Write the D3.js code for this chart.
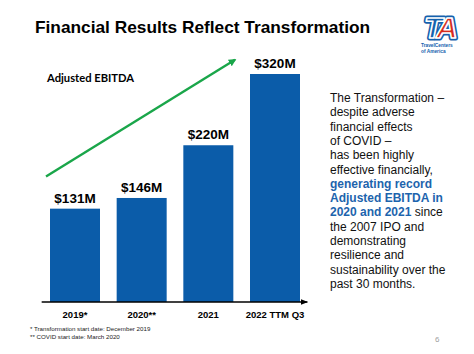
<!DOCTYPE html>
<html><head><meta charset="utf-8">
<script src="https://cdn.jsdelivr.net/npm/d3@7"></script>
<style>body{margin:0;background:#fff}svg{display:block}</style>
</head><body>
<script>
const categories = ["2019*", "2020**", "2021", "2022 TTM Q3"];
const ebitda = [131, 146, 220, 320];
const valueLabels = ["$131M", "$146M", "$220M", "$320M"];
const trendValues = [176, 340];
const footnotes = ["* Transformation start date: December 2019", "** COVID start date: March 2020"];
const sideText = [
  [{t:"The Transformation \u2013"}],
  [{t:"despite adverse"}],
  [{t:"financial effects"}],
  [{t:"of COVID \u2013"}],
  [{t:"has been highly"}],
  [{t:"effective financially,"}],
  [{t:"generating record", h:true}],
  [{t:"Adjusted EBITDA in", h:true}],
  [{t:"2020 and 2021", h:true},{t:" since"}],
  [{t:"the 2007 IPO and"}],
  [{t:"demonstrating"}],
  [{t:"resilience and"}],
  [{t:"sustainability over the"}],
  [{t:"past 30 months."}]
];

const W = 474, H = 354;
const svg = d3.select("body").append("svg").attr("width", W).attr("height", H);
const font = "'Liberation Sans', Arial, sans-serif";

const x = d3.scaleBand().domain(categories).range([41.67, 308.33]).paddingInner(0.25).paddingOuter(0.125);
const y = d3.scaleLinear().domain([0, 320]).range([302, 74]);

// title
svg.append("text").attr("x", 35).attr("y", 33).attr("font-family", font).attr("font-weight", "bold")
  .attr("font-size", 17.3).attr("fill", "#000").text("Financial Results Reflect Transformation");

// logo
const logo = svg.append("g").attr("transform", "translate(421,12)");
const lt = (stroke, sw) => {
  const t = logo.append("text").attr("x", 3).attr("y", 26).attr("font-family", font)
    .attr("font-weight", "bold").attr("font-style", "italic").attr("font-size", 30).attr("letter-spacing", -4)
    .attr("stroke", stroke).attr("stroke-width", sw).attr("stroke-linejoin", "round");
  t.append("tspan").attr("fill", "#1461ad").text("T");
  t.append("tspan").attr("fill", "#d52b1e").text("A");
  return t;
};
lt("#1461ad", 5);
lt("#ffffff", 1.6);
logo.append("text").attr("x", 0).attr("y", 35).attr("font-family", font).attr("font-weight", "bold")
  .attr("font-size", 4.8).attr("fill", "#1461ad").text("TravelCenters");
logo.append("text").attr("x", 0).attr("y", 40.5).attr("font-family", font).attr("font-weight", "bold")
  .attr("font-size", 4.8).attr("fill", "#1461ad").text("of America");

// Adjusted EBITDA label
svg.append("text").attr("x", 47).attr("y", 82).attr("font-family", "Lato, 'Liberation Sans', sans-serif")
  .attr("font-weight", "bold").attr("font-size", 11.2).attr("fill", "#000").text("Adjusted EBITDA");

// trend arrow
const defs = svg.append("defs");
defs.append("marker").attr("id", "ga").attr("viewBox", "0 0 10 10").attr("refX", 8).attr("refY", 5)
  .attr("markerWidth", 3.2).attr("markerHeight", 3.2).attr("orient", "auto")
  .append("path").attr("d", "M0,0 L10,5 L0,10 Z").attr("fill", "#1aa64a");
defs.append("marker").attr("id", "ka").attr("viewBox", "0 0 10 10").attr("refX", 9).attr("refY", 5)
  .attr("markerWidth", 5).attr("markerHeight", 5).attr("orient", "auto")
  .append("path").attr("d", "M0,1 L10,5 L0,9 Z").attr("fill", "#000");

svg.append("line")
  .attr("x1", x(categories[0]) - 4).attr("y1", y(trendValues[0]))
  .attr("x2", x(categories[3]) - 15).attr("y2", y(trendValues[1]))
  .attr("stroke", "#1aa64a").attr("stroke-width", 2.4).attr("marker-end", "url(#ga)");

// bars
const data = categories.map((c, i) => ({c, v: ebitda[i], l: valueLabels[i]}));
svg.selectAll("rect.bar").data(data).enter().append("rect").attr("class", "bar")
  .attr("x", d => x(d.c)).attr("y", d => y(d.v)).attr("width", x.bandwidth())
  .attr("height", d => y(0) - y(d.v)).attr("fill", "#0b5ca9");

svg.selectAll("text.val").data(data).enter().append("text").attr("class", "val")
  .attr("x", d => x(d.c) + x.bandwidth() / 2).attr("y", d => y(d.v) - 6)
  .attr("text-anchor", "middle").attr("font-family", font).attr("font-weight", "bold")
  .attr("font-size", 13.5).attr("fill", "#000").text(d => d.l);

// axis
const ax = svg.append("g").attr("transform", `translate(0,${y(0)})`)
  .call(d3.axisBottom(x).tickSize(0).tickPadding(9));
ax.select(".domain").attr("d", `M${x.range()[0]},0H${x.range()[1] - 1}`).attr("stroke", "#000")
  .attr("stroke-width", 1.4).attr("marker-end", "url(#ka)");
ax.selectAll(".tick text").attr("font-family", font).attr("font-weight", "bold").attr("font-size", 9.5)
  .attr("fill", "#000").attr("dy", "0.71em");

// side text
const st = svg.append("text").attr("font-family", font).attr("font-size", 12).attr("fill", "#111");
sideText.forEach((line, i) => {
  line.forEach((seg, j) => {
    const ts = st.append("tspan").text(seg.t);
    if (j === 0) ts.attr("x", 330).attr("y", 102 + i * 14.3);
    if (seg.h) ts.attr("font-weight", "bold").attr("fill", "#1d64ad");
  });
});

// footnotes
footnotes.forEach((f, i) => {
  svg.append("text").attr("x", 30).attr("y", 331 + i * 7.5).attr("font-family", font)
    .attr("font-size", 6.2).attr("fill", "#222").text(f);
});

svg.append("text").attr("x", 435).attr("y", 342).attr("font-family", font).attr("font-size", 8)
  .attr("fill", "#a0a0a0").text("6");
</script>
</body></html>
